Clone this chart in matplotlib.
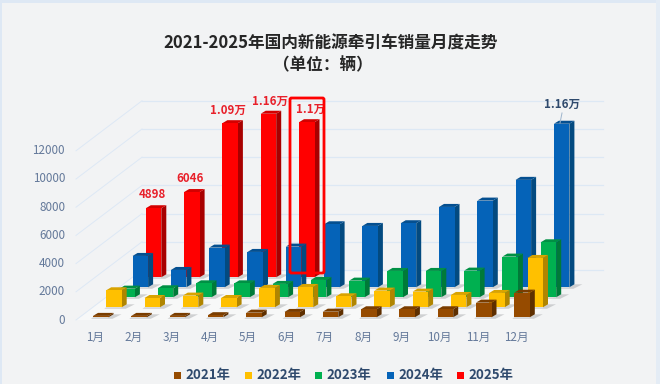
import matplotlib
matplotlib.use('Agg')
import matplotlib.pyplot as plt
from matplotlib.patches import Polygon, Rectangle, FancyBboxPatch

plt.rcParams['font.family'] = ['Noto Sans CJK SC', 'DejaVu Sans']

months = ['1月', '2月', '3月', '4月', '5月', '6月', '7月', '8月', '9月', '10月', '11月', '12月']
years = ['2021年', '2022年', '2023年', '2024年', '2025年']
y_ticks = [0, 2000, 4000, 6000, 8000, 10000, 12000]

sales_2021 = [100, 100, 100, 150, 330, 380, 400, 570, 570, 570, 1040, 1750]
sales_2022 = [1207, 660, 830, 660, 1372, 1443, 780, 1183, 1112, 875, 1017, 3500]
sales_2023 = [615, 640, 990, 990, 950, 1230, 1183, 1870, 1870, 1893, 2887, 3900]
sales_2024 = [2224, 1230, 2815, 2508, 2887, 4470, 4353, 4543, 5700, 6150, 7620, 11600]
sales_2025 = [4898, 6046, 10930, 11600, 11000]
series = [sales_2021, sales_2022, sales_2023, sales_2024, sales_2025]

# front, side, top
colors = [('#964B00', '#5E2F00', '#7A3D00'),
          ('#FFC000', '#B08500', '#D9A300'),
          ('#00B050', '#007A38', '#009044'),
          ('#0563B8', '#034A80', '#044F90'),
          ('#FF0000', '#A80000', '#D40000')]

# oblique projection, all in pixels of the figure
X0, Y0 = 76, 320
WALL_DX, WALL_DY = 66, -50
FLOOR_W = 461
PX_PER_UNIT = 28.2 / 2000
MONTH_STEP = 38.3
ROW_DX, ROW_DY = 13.2, -10
BAR_W, SIDE_DX, SIDE_DY = 15.5, 5, -3
FIRST_X, FIRST_Y = 93, 317.3

TICK_COLOR = '#64799A'
DARK_BLUE = '#2F4A6D'
WALL_LINE = '#DDE8F4'

fig = plt.figure(figsize=(6.6, 3.84), dpi=100, facecolor='#F2F3F4')
ax = fig.add_axes([0, 0, 1, 1])
ax.set_xlim(0, 660)
ax.set_ylim(384, 0)
ax.axis('off')

# frame of the screenshot
ax.add_patch(Rectangle((0, 0), 660, 2.5, color='#DEE8F4', lw=0))
ax.add_patch(Rectangle((0, 0), 1.5, 384, color='#DEE8F4', lw=0))
ax.add_patch(Rectangle((656, 0), 4, 384, color='#E4ECF5', lw=0))

# floor
ax.add_patch(Polygon([(X0, Y0), (X0 + WALL_DX, Y0 + WALL_DY),
                      (X0 + WALL_DX + FLOOR_W - 23, Y0 + WALL_DY), (X0 + FLOOR_W - 5, Y0)],
                     closed=True, fc='#F7F8F8', ec='none', zorder=1))

# wall grid
for t in y_ticks:
    y = Y0 - t * PX_PER_UNIT
    ax.plot([X0, X0 + WALL_DX], [y, y + WALL_DY], color=WALL_LINE, lw=0.7, zorder=1.5)
    ax.plot([X0 + WALL_DX, X0 + WALL_DX + FLOOR_W], [y + WALL_DY, y + WALL_DY],
            color=WALL_LINE, lw=0.9, zorder=1.5)
    ax.text(65, y, str(t), ha='right', va='center', fontsize=8.4, color=TICK_COLOR)

# bars, back row first
z = 2
for row in range(len(series) - 1, -1, -1):
    front, side, top = colors[row]
    for i, value in enumerate(series[row]):
        x = FIRST_X + i * MONTH_STEP + row * ROW_DX
        base = FIRST_Y + row * ROW_DY
        h = value * PX_PER_UNIT
        # shadow on the floor
        ax.add_patch(Polygon([(x + BAR_W, base), (x + BAR_W + SIDE_DX, base + SIDE_DY),
                              (x + BAR_W + SIDE_DX + 8, base + SIDE_DY), (x + BAR_W + 4, base + 1.5),
                              (x - 2, base + 1.5), (x, base)],
                             closed=True, fc='#AFB1B3', ec='none', alpha=0.55, zorder=z))
        ax.add_patch(Polygon([(x + BAR_W, base), (x + BAR_W + SIDE_DX, base + SIDE_DY),
                              (x + BAR_W + SIDE_DX, base + SIDE_DY - h), (x + BAR_W, base - h)],
                             closed=True, fc=side, ec='none', zorder=z + 0.1))
        ax.add_patch(Polygon([(x, base - h), (x + BAR_W, base - h),
                              (x + BAR_W + SIDE_DX, base + SIDE_DY - h), (x + SIDE_DX, base + SIDE_DY - h)],
                             closed=True, fc=top, ec='none', zorder=z + 0.2))
        ax.add_patch(Rectangle((x, base - h), BAR_W, h, fc=front, ec='none', zorder=z + 0.3))
    z += 1

# month labels
for i, m in enumerate(months):
    ax.text(95 + i * MONTH_STEP, 337, m, ha='center', va='center', fontsize=8.4, color=TICK_COLOR)

# value labels
red_labels = ['4898', '6046', '1.09万', '1.16万', '1.1万']
red_x = [152, 190, 228, 270, 311]
red_y = [195, 179, 110, 101, 109]
for s, lx, ly in zip(red_labels, red_x, red_y):
    ax.text(lx, ly, s, ha='center', va='center', fontsize=8.3, fontweight='bold',
            color='#E8202A', zorder=20)
ax.text(562, 104, '1.16万', ha='center', va='center', fontsize=8.3, fontweight='bold',
        color=DARK_BLUE, zorder=20)
ax.plot([562, 560], [113, 123], color='#9DB4CC', lw=0.7, zorder=20)

# highlight box
ax.add_patch(FancyBboxPatch((290, 98), 34, 175, boxstyle='round,pad=0,rounding_size=1.5',
                            fc='none', ec='#FF0000', lw=2, zorder=21))

# title
ax.text(331, 44, '2021-2025年国内新能源牵引车销量月度走势', ha='center', va='center',
        fontsize=12, fontweight='bold', color='#262626')
ax.text(323, 65, '（单位：辆）', ha='center', va='center',
        fontsize=12, fontweight='bold', color='#262626')

# legend
legend_x = [174, 245, 315, 387, 457]
for lx, yr, c in zip(legend_x, years, colors):
    ax.add_patch(Rectangle((lx, 372), 7, 7, fc=c[0], ec='none'))
    ax.text(lx + 11, 375.5, yr, ha='left', va='center', fontsize=9.6, fontweight='bold', color=DARK_BLUE)

fig.savefig('out.png', dpi=100, facecolor=fig.get_facecolor())
